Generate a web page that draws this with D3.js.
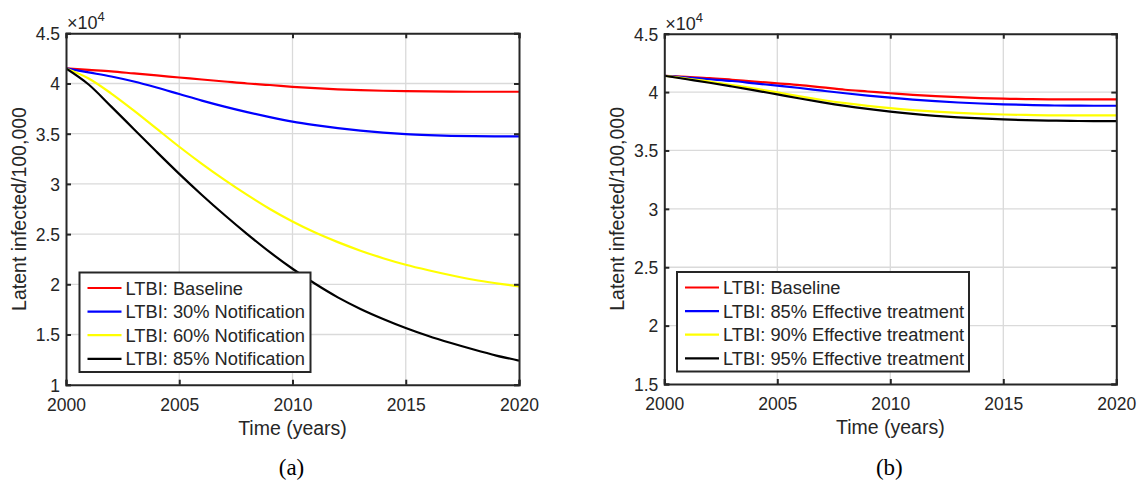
<!DOCTYPE html>
<html>
<head>
<meta charset="utf-8">
<script src="https://cdn.jsdelivr.net/npm/d3@7"></script>
<style>
  html, body { margin: 0; padding: 0; background: #fff; }
  svg { display: block; font-family: "Liberation Sans", Arial, sans-serif; }
</style>
</head>
<body>
<svg id="chart" width="1141" height="484"></svg>
<script>
// Simulation years (annual output)
const years = d3.range(2000, 2021);

// Panel (a): latent infections under increasing notification (x 10^4 per 100,000)
const aBaseline = [4.15, 4.135, 4.12, 4.10, 4.08, 4.06, 4.04, 4.02, 4.00, 3.985, 3.967, 3.953, 3.942, 3.934, 3.928, 3.924, 3.921, 3.919, 3.918, 3.918, 3.918];
const aNotif30  = [4.15, 4.11, 4.07, 4.02, 3.96, 3.895, 3.83, 3.77, 3.715, 3.665, 3.62, 3.585, 3.555, 3.53, 3.51, 3.495, 3.485, 3.478, 3.475, 3.474, 3.474];
const aNotif60  = [4.15, 4.05, 3.90, 3.73, 3.55, 3.37, 3.20, 3.04, 2.89, 2.75, 2.625, 2.515, 2.42, 2.335, 2.26, 2.195, 2.14, 2.09, 2.045, 2.01, 1.98];
const aNotif85  = [4.15, 3.99, 3.77, 3.545, 3.32, 3.10, 2.89, 2.69, 2.50, 2.32, 2.155, 2.005, 1.87, 1.755, 1.655, 1.565, 1.485, 1.415, 1.35, 1.29, 1.24];

// Panel (b): latent infections under increasing treatment effectiveness
const bBaseline = [4.14, 4.13, 4.12, 4.105, 4.09, 4.075, 4.06, 4.04, 4.02, 4.005, 3.99, 3.976, 3.965, 3.956, 3.949, 3.944, 3.94, 3.938, 3.937, 3.937, 3.937];
const bTreat85  = [4.14, 4.125, 4.11, 4.095, 4.075, 4.055, 4.035, 4.012, 3.99, 3.97, 3.952, 3.936, 3.922, 3.911, 3.902, 3.895, 3.89, 3.886, 3.884, 3.883, 3.883];
const bTreat90  = [4.14, 4.115, 4.09, 4.06, 4.03, 3.997, 3.963, 3.932, 3.905, 3.882, 3.862, 3.846, 3.833, 3.822, 3.814, 3.808, 3.804, 3.801, 3.80, 3.80, 3.80];
const bTreat95  = [4.14, 4.11, 4.08, 4.048, 4.015, 3.98, 3.945, 3.912, 3.882, 3.856, 3.833, 3.813, 3.797, 3.784, 3.774, 3.766, 3.76, 3.756, 3.753, 3.752, 3.752];

const aNames = ["LTBI: Baseline", "LTBI: 30% Notification", "LTBI: 60% Notification", "LTBI: 85% Notification"];
const bNames = ["LTBI: Baseline", "LTBI: 85% Effective treatment", "LTBI: 90% Effective treatment", "LTBI: 95% Effective treatment"];
const seriesColors = ["#ff0000", "#0000ff", "#ffff00", "#000000"];

const xTicks = [2000, 2005, 2010, 2015, 2020];
const aYTicks = [1, 1.5, 2, 2.5, 3, 3.5, 4, 4.5];
const bYTicks = [1.5, 2, 2.5, 3, 3.5, 4, 4.5];
const xLabel = "Time (years)";
const yLabel = "Latent infected/100,000";

const svg = d3.select("#chart");
const ink = "#262626";

function panel(cfg) {
  const g = svg.append("g");
  const x = d3.scaleLinear().domain([2000, 2020]).range([cfg.left, cfg.right]);
  const y = d3.scaleLinear().domain(cfg.yDomain).range([cfg.bottom, cfg.top]);

  // grid
  g.append("g").selectAll("line").data(xTicks.slice(1, -1)).join("line")
    .attr("x1", d => x(d)).attr("x2", d => x(d))
    .attr("y1", cfg.top).attr("y2", cfg.bottom)
    .attr("stroke", "#dadada").attr("stroke-width", 1.3);
  g.append("g").selectAll("line").data(cfg.yTicks.slice(1, -1)).join("line")
    .attr("y1", d => y(d)).attr("y2", d => y(d))
    .attr("x1", cfg.left).attr("x2", cfg.right)
    .attr("stroke", "#dadada").attr("stroke-width", 1.3);

  // series
  const line = d3.line().x((d, i) => x(years[i])).y(d => y(d)).curve(d3.curveMonotoneX);
  const clipId = "clip" + cfg.id;
  svg.append("clipPath").attr("id", clipId).append("rect")
    .attr("x", cfg.left).attr("y", cfg.top)
    .attr("width", cfg.right - cfg.left).attr("height", cfg.bottom - cfg.top);
  g.append("g").attr("clip-path", `url(#${clipId})`)
    .selectAll("path").data(cfg.series).join("path")
    .attr("d", d => line(d))
    .attr("fill", "none")
    .attr("stroke", (d, i) => seriesColors[i])
    .attr("stroke-width", 2.2);

  // axes (ticks inward on all four sides)
  const tickLen = 5;
  const bottomAxis = d3.axisBottom(x).tickValues(xTicks).tickSize(-tickLen).tickPadding(13.5).tickFormat(d3.format("d"));
  const topAxis = d3.axisTop(x).tickValues(xTicks).tickSize(-tickLen).tickFormat("");
  const leftAxis = d3.axisLeft(y).tickValues(cfg.yTicks).tickSize(-tickLen).tickPadding(6).tickFormat(d => String(d));
  const rightAxis = d3.axisRight(y).tickValues(cfg.yTicks).tickSize(-tickLen).tickFormat("");

  const axes = [
    [bottomAxis, `translate(0,${cfg.bottom})`],
    [topAxis, `translate(0,${cfg.top})`],
    [leftAxis, `translate(${cfg.left},0)`],
    [rightAxis, `translate(${cfg.right},0)`]
  ];
  axes.forEach(([ax, tr]) => {
    const a = g.append("g").attr("transform", tr).call(ax);
    a.select(".domain").attr("stroke", ink).attr("stroke-width", 2);
    a.selectAll(".tick line").attr("stroke", ink).attr("stroke-width", 2);
    a.selectAll(".tick text").attr("fill", ink).attr("font-size", 17.5)
      .attr("font-family", "Liberation Sans, Arial, sans-serif");
  });
  // y tick labels sit a touch below their gridlines
  g.selectAll(".tick text").filter(function () { return this.getAttribute("x") && +this.getAttribute("x") < 0; })
    .attr("dy", "0.36em");

  // exponent marker
  const ex = g.append("text").attr("x", cfg.left + 1).attr("y", cfg.top - 4)
    .attr("fill", ink).attr("font-size", 18);
  ex.append("tspan").text("\u00d710");
  ex.append("tspan").attr("dy", -8).attr("font-size", 13).text("4");

  // axis titles
  g.append("text").attr("x", (cfg.left + cfg.right) / 2).attr("y", cfg.bottom + 50)
    .attr("text-anchor", "middle").attr("fill", ink).attr("font-size", 19.5).text(xLabel);
  g.append("text")
    .attr("transform", `translate(${cfg.left - 40},${(cfg.top + cfg.bottom) / 2}) rotate(-90)`)
    .attr("text-anchor", "middle").attr("fill", ink).attr("font-size", 19.5).text(yLabel);

  // panel caption
  g.append("text").attr("x", (cfg.left + cfg.right) / 2 - 1).attr("y", 475)
    .attr("text-anchor", "middle").attr("fill", "#000")
    .attr("font-family", "Liberation Serif, 'Times New Roman', serif")
    .attr("font-size", 23).text(cfg.caption);

  // legend
  const L = cfg.legend;
  const lg = g.append("g");
  lg.append("rect").attr("x", L.x).attr("y", L.y).attr("width", L.w).attr("height", L.h)
    .attr("fill", "#fff").attr("stroke", ink).attr("stroke-width", 2);
  const rows = lg.selectAll("g.row").data(cfg.names).join("g").attr("class", "row")
    .attr("transform", (d, i) => `translate(${L.x},${L.y + 15.5 + i * 23.6})`);
  rows.append("line").attr("x1", 8).attr("x2", 42).attr("y1", 0).attr("y2", 0)
    .attr("stroke", (d, i) => seriesColors[i]).attr("stroke-width", 2.2);
  rows.append("text").attr("x", 46).attr("y", 0).attr("dy", "0.36em")
    .attr("fill", ink).attr("font-size", 18.3).text(d => d);
}

panel({
  id: "a", left: 66, right: 519, top: 33.3, bottom: 384.7,
  yDomain: [1, 4.5], yTicks: aYTicks,
  series: [aBaseline, aNotif30, aNotif60, aNotif85], names: aNames, caption: "(a)",
  legend: { x: 79.5, y: 272.5, w: 231, h: 99.5 }
});
panel({
  id: "b", left: 664.3, right: 1116.3, top: 33.7, bottom: 384,
  yDomain: [1.5, 4.5], yTicks: bYTicks,
  series: [bBaseline, bTreat85, bTreat90, bTreat95], names: bNames, caption: "(b)",
  legend: { x: 677, y: 272, w: 292, h: 99.5 }
});
</script>
</body>
</html>
